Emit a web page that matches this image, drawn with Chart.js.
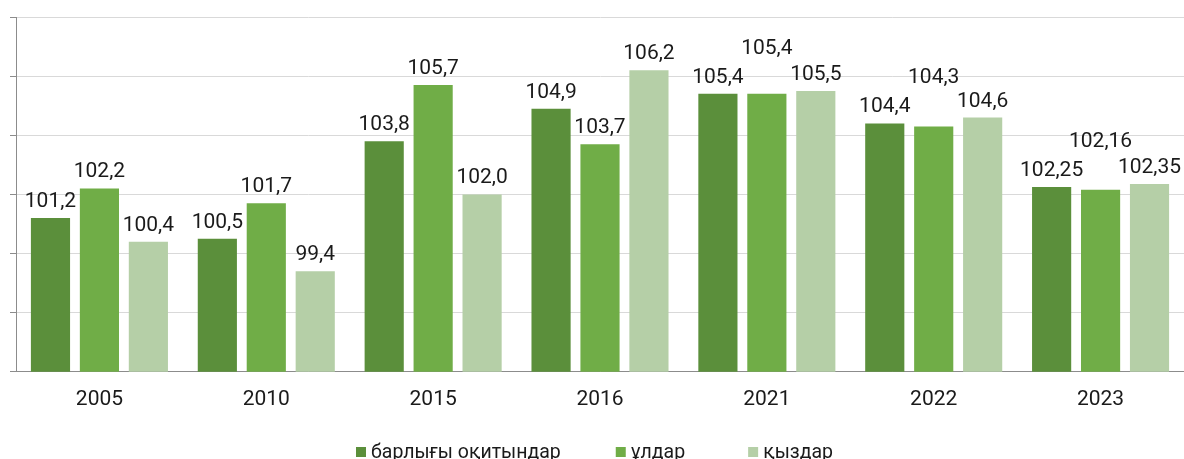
<!DOCTYPE html>
<html>
<head>
<meta charset="utf-8">
<script src="https://cdn.jsdelivr.net/npm/chart.js@4"></script>
<style>
html,body{margin:0;padding:0;background:#fff;overflow:hidden;}
#wrap{width:1184px;height:459px;position:relative;}
</style>
</head>
<body>
<div id="wrap"><canvas id="myChart"></canvas></div>
<script>
// data
const years = ['2005','2010','2015','2016','2021','2022','2023'];
const allStudents = [101.2, 100.5, 103.8, 104.9, 105.4, 104.4, 102.25];
const boys = [102.2, 101.7, 105.7, 103.7, 105.4, 104.3, 102.16];
const girls = [100.4, 99.4, 102.0, 106.2, 105.5, 104.6, 102.35];
const decimals = [1, 1, 1, 1, 1, 1, 2];
const seriesNames = ['барлығы оқитындар', 'ұлдар', 'қыздар'];
const seriesColors = ['#5b8f3b', '#70ad47', '#b5cfa7'];
const yMin = 96, yMax = 108, yStep = 2;

// value labels above bars, pushed up when they bump into a neighbour
const valueLabels = {
    id: 'valueLabels',
    afterDatasetsDraw(chart) {
        const ctx = chart.ctx;
        ctx.save();
        ctx.font = '21px Roboto';
        ctx.fillStyle = '#1a1a1a';
        ctx.textAlign = 'center';
        ctx.textBaseline = 'alphabetic';
        chart.data.labels.forEach((lab, i) => {
            const placed = [];
            chart.data.datasets.forEach((ds, d) => {
                const bar = chart.getDatasetMeta(d).data[i];
                const txt = ds.data[i].toFixed(decimals[i]).replace('.', ',');
                const w = ctx.measureText(txt).width;
                let base = bar.y - 11;
                let hit = true;
                while (hit) {
                    hit = false;
                    for (const p of placed) {
                        const ox = Math.abs(p.x - bar.x) < (p.w + w) / 2 + 4;
                        const oy = Math.abs(p.base - base) < 16;
                        if (ox && oy) { base = p.base - 29; hit = true; }
                    }
                }
                placed.push({ x: bar.x, w: w, base: base });
                ctx.fillText(txt, bar.x, base);
            });
        });
        ctx.restore();
    }
};

// legend at the bottom, spaced like the original
const bottomLegend = {
    id: 'bottomLegend',
    afterDraw(chart) {
        const ctx = chart.ctx;
        ctx.save();
        ctx.font = '19.5px Roboto';
        ctx.textBaseline = 'middle';
        ctx.textAlign = 'left';
        const box = 10, gapText = 5, gaps = [55, 63];
        let x = 356;
        const cy = 452;
        chart.data.datasets.forEach((ds, k) => {
            const w = ctx.measureText(ds.label).width;
            ctx.fillStyle = ds.backgroundColor;
            ctx.fillRect(x, cy - box / 2, box, box);
            ctx.fillStyle = '#1a1a1a';
            ctx.fillText(ds.label, x + box + gapText, cy + 1);
            x += box + gapText + w + (gaps[k] || 0);
        });
        ctx.restore();
    }
};

const ctx = document.getElementById('myChart').getContext('2d');
const myChart = new Chart(ctx, {
    type: 'bar',
    data: {
        labels: years,
        datasets: [allStudents, boys, girls].map((vals, k) => ({
            label: seriesNames[k],
            data: vals,
            backgroundColor: seriesColors[k],
            borderWidth: 0,
            categoryPercentage: 0.88,
            barPercentage: 0.8
        }))
    },
    options: {
        responsive: true,
        maintainAspectRatio: false,
        animation: false,
        layout: { padding: { left: 10, right: 0, top: 17, bottom: 32 } },
        plugins: {
            legend: { display: false },
            tooltip: { enabled: false }
        },
        scales: {
            x: {
                grid: { display: false, drawTicks: false },
                border: { color: '#8c8c8c', width: 1 },
                ticks: {
                    color: '#1a1a1a',
                    padding: 15,
                    font: { family: 'Roboto', size: 21 }
                }
            },
            y: {
                min: yMin,
                max: yMax,
                grid: {
                    color: '#d9d9d9',
                    tickColor: '#8c8c8c',
                    tickLength: 6,
                    drawTicks: true
                },
                border: { color: '#8c8c8c', width: 1 },
                ticks: { stepSize: yStep, display: false }
            }
        }
    },
    plugins: [valueLabels, bottomLegend]
});
</script>
</body>
</html>
